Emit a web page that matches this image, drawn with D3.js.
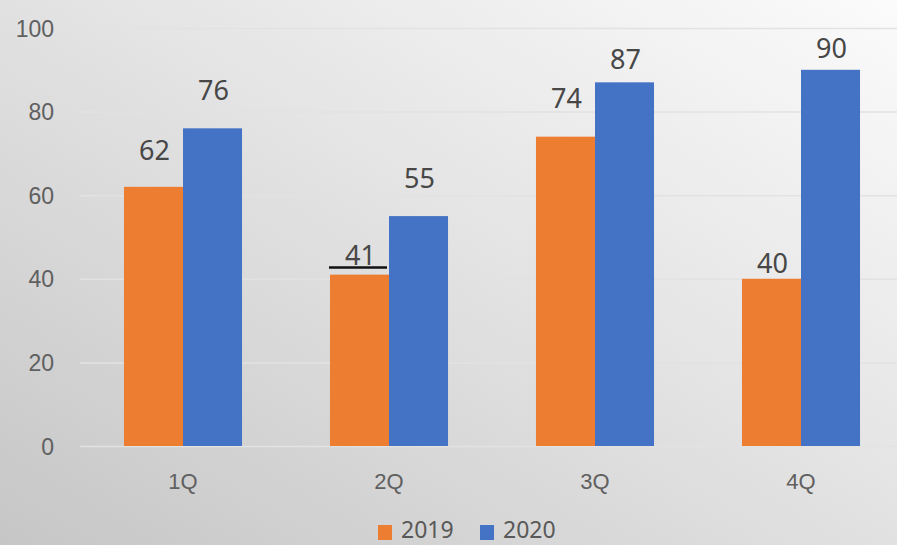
<!DOCTYPE html>
<html>
<head>
    <title>Quarterly</title>
    <script src="https://d3js.org/d3.v7.min.js"></script>
    <style>
        body { margin: 0; overflow: hidden; }
        svg { display: block; font-family: "Noto Sans", "Open Sans", sans-serif; }
    </style>
</head>
<body>
<div id="chart"></div>
<script>
    // data
    const quarters = ["1Q", "2Q", "3Q", "4Q"];
    const seriesNames = ["2019", "2020"];
    const values2019 = [62, 41, 74, 40];
    const values2020 = [76, 55, 87, 90];
    const yTicks = [0, 20, 40, 60, 80, 100];

    const colors = { "2019": "#ED7D31", "2020": "#4472C4" };

    const width = 897, height = 545;
    const plot = { left: 80, right: 904, top: 28, bottom: 446 };

    const svg = d3.select("#chart").append("svg")
        .attr("width", width)
        .attr("height", height);

    // background gradient, grey on the left to almost white on the right
    const grad = svg.append("defs").append("linearGradient")
        .attr("id", "bg")
        .attr("x1", "0%").attr("y1", "100%")
        .attr("x2", "100%").attr("y2", "0%");
    grad.append("stop").attr("offset", "0%").attr("stop-color", "#c6c6c6");
    grad.append("stop").attr("offset", "55%").attr("stop-color", "#e4e4e4");
    grad.append("stop").attr("offset", "100%").attr("stop-color", "#fbfbfb");
    svg.append("rect").attr("width", width).attr("height", height).attr("fill", "url(#bg)");

    const x0 = d3.scaleBand()
        .domain(quarters)
        .range([plot.left, plot.right])
        .paddingInner(0.427)
        .paddingOuter(0.2135);

    const x1 = d3.scaleBand()
        .domain(seriesNames)
        .range([0, x0.bandwidth()]);

    const y = d3.scaleLinear()
        .domain([0, 100])
        .range([plot.bottom, plot.top]);

    // gridlines + y labels
    const yAxis = svg.append("g")
        .attr("transform", `translate(${plot.left},0)`)
        .call(d3.axisLeft(y).tickValues(yTicks).tickSize(-(plot.right - plot.left)).tickPadding(26));
    yAxis.select(".domain").remove();
    yAxis.selectAll(".tick line").attr("stroke", "#e2e2e2").attr("stroke-width", 1.5);
    yAxis.selectAll(".tick text")
        .attr("fill", "#606060")
        .style("font-size", "23px")
        .attr("dy", "0.35em");

    // x labels
    const xAxis = svg.append("g")
        .attr("transform", `translate(0,${plot.bottom})`)
        .call(d3.axisBottom(x0).tickSize(0).tickPadding(27));
    xAxis.select(".domain").remove();
    xAxis.selectAll(".tick text")
        .attr("fill", "#606060")
        .style("font-size", "22px");

    const rows = quarters.map((q, i) => ({
        quarter: q,
        items: [
            { series: "2019", value: values2019[i] },
            { series: "2020", value: values2020[i] }
        ]
    }));

    // the value labels sit at uneven heights in the picture
    const labelLift = {
        "1Q2019": 27, "1Q2020": 28,
        "2Q2019": 10, "2Q2020": 28,
        "3Q2019": 29, "3Q2020": 13,
        "4Q2019": 6, "4Q2020": 12
    };

    const groups = svg.selectAll(".grp")
        .data(rows)
        .enter()
        .append("g")
        .attr("class", "grp")
        .attr("transform", d => `translate(${x0(d.quarter)},0)`);

    groups.selectAll("rect")
        .data(d => d.items)
        .enter()
        .append("rect")
        .attr("x", d => x1(d.series))
        .attr("y", d => y(d.value))
        .attr("width", x1.bandwidth())
        .attr("height", d => y(0) - y(d.value))
        .attr("fill", d => colors[d.series]);

    groups.selectAll("text.val")
        .data(d => d.items.map(it => ({ ...it, quarter: d.quarter })))
        .enter()
        .append("text")
        .attr("class", "val")
        .attr("x", d => x1(d.series) + x1.bandwidth() / 2 + 1)
        .attr("y", d => y(d.value) - labelLift[d.quarter + d.series])
        .attr("text-anchor", "middle")
        .attr("fill", "#474747")
        .style("font-size", "27px")
        .text(d => d.value);

    // black stroke under the 41 label
    const q2 = x0("2Q");
    svg.append("line")
        .attr("x1", q2 - 1)
        .attr("x2", q2 + x1.bandwidth() - 2)
        .attr("y1", y(values2019[1]) - 7)
        .attr("y2", y(values2019[1]) - 7)
        .attr("stroke", "#111")
        .attr("stroke-width", 2.5);

    // legend
    const legend = svg.append("g").attr("transform", "translate(378,522)");
    const legendX = [0, 102];
    seriesNames.forEach((s, i) => {
        const g = legend.append("g").attr("transform", `translate(${legendX[i]},0)`);
        g.append("rect").attr("y", 3).attr("width", 14).attr("height", 15).attr("fill", colors[s]);
        g.append("text")
            .attr("x", 23)
            .attr("y", 16)
            .attr("fill", "#595959")
            .style("font-size", "23px")
            .text(s);
    });
</script>
</body>
</html>
